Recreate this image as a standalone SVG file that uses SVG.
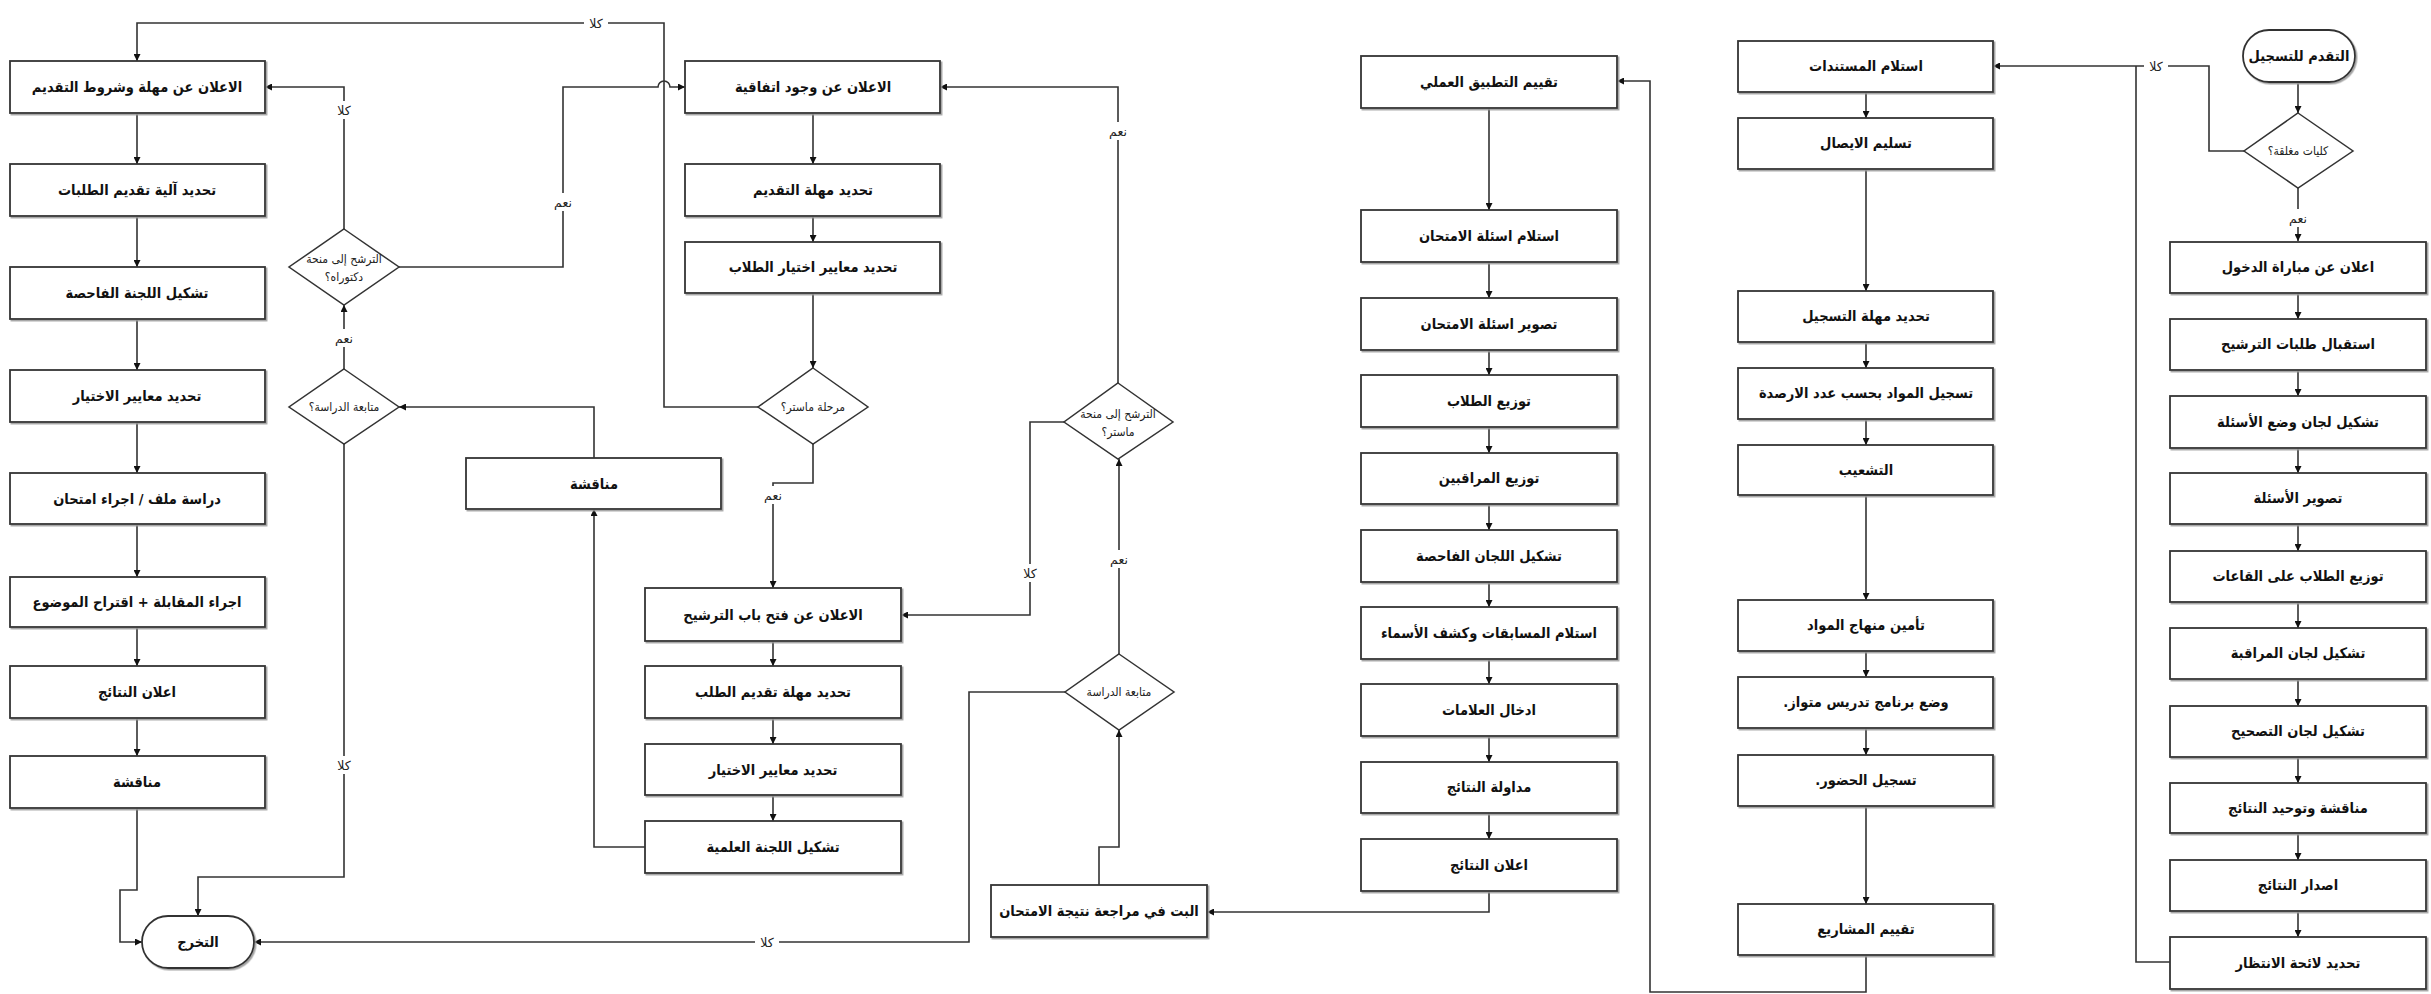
<svg xmlns="http://www.w3.org/2000/svg" width="2431" height="994" viewBox="0 0 2431 994">
<style>
.b{fill:#fff;stroke:#333;stroke-width:1.8;filter:url(#sh)}
.d{fill:#fff;stroke:#333;stroke-width:1.5}
.t{font-family:"DejaVu Sans","Noto Sans",sans-serif;font-weight:bold;font-size:14.5px;font-stretch:condensed;fill:#111;text-anchor:middle}
.dt{font-family:"DejaVu Sans","Noto Sans",sans-serif;font-size:12px;font-stretch:condensed;fill:#222;text-anchor:middle}
.c{fill:none;stroke:#333;stroke-width:1.6}
.ca{fill:none;stroke:#333;stroke-width:1.6;marker-end:url(#ah)}
.lb{fill:#fff}
.l{font-family:"DejaVu Sans","Noto Sans",sans-serif;font-size:12.5px;fill:#222;text-anchor:middle}
</style>
<defs>
<marker id="ah" viewBox="0 0 10 10" refX="10" refY="5" markerWidth="7" markerHeight="7" markerUnits="userSpaceOnUse" orient="auto">
<path d="M0,0 L10,5 L0,10 z" fill="#111"/>
</marker>
<filter id="sh" x="-5%" y="-10%" width="112%" height="130%">
<feDropShadow dx="1.5" dy="1.5" stdDeviation="0.6" flood-color="#999" flood-opacity="0.9"/>
</filter>
</defs>
<rect width="2431" height="994" fill="#fff"/>

<g id="connectors">
<!-- column 1 -->
<path class="ca" d="M137,113V164"/>
<path class="ca" d="M137,216V267"/>
<path class="ca" d="M137,319V370"/>
<path class="ca" d="M137,422V473"/>
<path class="ca" d="M137,524V577"/>
<path class="ca" d="M137,627V666"/>
<path class="ca" d="M137,718V756"/>
<path class="ca" d="M137,808V890H120V942H142"/>
<path class="ca" d="M344,444V877H198V916"/>
<path class="ca" d="M344,369V305"/>
<path class="ca" d="M344,229V87H265"/>
<path class="ca" d="M399,267H563V87H658A6,6 0 0 1 670,87H685"/>
<path class="ca" d="M758,407H664V23H137V61"/>
<path class="ca" d="M594,458V407H399"/>
<path class="ca" d="M645,847H594V509"/>
<!-- column 2 -->
<path class="ca" d="M813,113V164"/>
<path class="ca" d="M813,216V242"/>
<path class="ca" d="M813,293V368"/>
<path class="ca" d="M813,444V483H773V588"/>
<path class="ca" d="M773,641V666"/>
<path class="ca" d="M773,718V744"/>
<path class="ca" d="M773,795V821"/>
<path class="ca" d="M1118,383V87H940"/>
<path class="ca" d="M1064,422H1030V615H901"/>
<path class="ca" d="M1119,654V459"/>
<path class="ca" d="M1065,692H969V942H254"/>
<path class="ca" d="M1099,885V847H1119V730"/>
<path class="ca" d="M1489,891V912H1207"/>
<!-- column 3 -->
<path class="ca" d="M1489,108V210"/>
<path class="ca" d="M1489,262V298"/>
<path class="ca" d="M1489,350V375"/>
<path class="ca" d="M1489,427V453"/>
<path class="ca" d="M1489,504V530"/>
<path class="ca" d="M1489,582V607"/>
<path class="ca" d="M1489,659V684"/>
<path class="ca" d="M1489,736V762"/>
<path class="ca" d="M1489,813V839"/>
<path class="ca" d="M1866,955V992H1650V81H1617"/>
<!-- column 4 -->
<path class="ca" d="M1866,92V118"/>
<path class="ca" d="M1866,169V291"/>
<path class="ca" d="M1866,342V368"/>
<path class="ca" d="M1866,419V445"/>
<path class="ca" d="M1866,495V600"/>
<path class="ca" d="M1866,651V677"/>
<path class="ca" d="M1866,728V755"/>
<path class="ca" d="M1866,806V904"/>
<!-- column 5 -->
<path class="ca" d="M2298,82V113"/>
<path class="ca" d="M2244,151H2209V66H1993"/>
<path class="c" d="M2170,962H2136V66"/>
<path class="ca" d="M2298,188V241"/>
<path class="ca" d="M2298,293V319"/>
<path class="ca" d="M2298,370V396"/>
<path class="ca" d="M2298,448V473"/>
<path class="ca" d="M2298,524V551"/>
<path class="ca" d="M2298,602V628"/>
<path class="ca" d="M2298,679V706"/>
<path class="ca" d="M2298,757V783"/>
<path class="ca" d="M2298,833V860"/>
<path class="ca" d="M2298,911V937"/>
<!-- labels -->
<rect class="lb" x="332" y="756" width="24" height="18"/><text class="l" x="344" y="770">كلا</text>
<rect class="lb" x="332" y="329" width="24" height="18"/><text class="l" x="344" y="343">نعم</text>
<rect class="lb" x="332" y="101" width="24" height="18"/><text class="l" x="344" y="115">كلا</text>
<rect class="lb" x="551" y="193" width="24" height="18"/><text class="l" x="563" y="207">نعم</text>
<rect class="lb" x="584" y="14" width="24" height="18"/><text class="l" x="596" y="28">كلا</text>
<rect class="lb" x="761" y="486" width="24" height="18"/><text class="l" x="773" y="500">نعم</text>
<rect class="lb" x="1106" y="122" width="24" height="18"/><text class="l" x="1118" y="136">نعم</text>
<rect class="lb" x="1018" y="564" width="24" height="18"/><text class="l" x="1030" y="578">كلا</text>
<rect class="lb" x="1107" y="550" width="24" height="18"/><text class="l" x="1119" y="564">نعم</text>
<rect class="lb" x="755" y="933" width="24" height="18"/><text class="l" x="767" y="947">كلا</text>
<rect class="lb" x="2144" y="57" width="24" height="18"/><text class="l" x="2156" y="71">كلا</text>
<rect class="lb" x="2286" y="209" width="24" height="18"/><text class="l" x="2298" y="223">نعم</text>
</g>

<!-- column 1 -->
<g id="c1n1"><rect class="b" x="10" y="61" width="255" height="52"/><text class="t" x="137" y="92" direction="rtl">الاعلان عن مهلة وشروط التقديم</text></g>
<g id="c1n2"><rect class="b" x="10" y="164" width="255" height="52"/><text class="t" x="137" y="195" direction="rtl">تحديد آلية تقديم الطلبات</text></g>
<g id="c1n3"><rect class="b" x="10" y="267" width="255" height="52"/><text class="t" x="137" y="298" direction="rtl">تشكيل اللجنة الفاحصة</text></g>
<g id="c1n4"><rect class="b" x="10" y="370" width="255" height="52"/><text class="t" x="137" y="401" direction="rtl">تحديد معايير الاختيار</text></g>
<g id="c1n5"><rect class="b" x="10" y="473" width="255" height="51"/><text class="t" x="137" y="504" direction="rtl">دراسة ملف / اجراء امتحان</text></g>
<g id="c1n6"><rect class="b" x="10" y="577" width="255" height="50"/><text class="t" x="137" y="607" direction="rtl">اجراء المقابلة + اقتراح الموضوع</text></g>
<g id="c1n7"><rect class="b" x="10" y="666" width="255" height="52"/><text class="t" x="137" y="697" direction="rtl">اعلان النتائج</text></g>
<g id="c1n8"><rect class="b" x="10" y="756" width="255" height="52"/><text class="t" x="137" y="787" direction="rtl">مناقشة</text></g>
<g id="end"><rect class="b" x="142" y="916" width="112" height="52" rx="26"/><text class="t" x="198" y="947" direction="rtl">التخرج</text></g>
<g id="dDoct"><path class="d" d="M344,229L399,267L344,305L289,267Z"/><text class="dt" x="344" y="263" direction="rtl">الترشح إلى منحة</text><text class="dt" x="344" y="281" direction="rtl">دكتوراه؟</text></g>
<g id="dFollow1"><path class="d" d="M344,369L399,407L344,444L289,407Z"/><text class="dt" x="344" y="411" direction="rtl">متابعة الدراسة؟</text></g>
<g id="discuss"><rect class="b" x="466" y="458" width="255" height="51"/><text class="t" x="594" y="489" direction="rtl">مناقشة</text></g>

<!-- column 2 -->
<g id="c2n1"><rect class="b" x="685" y="61" width="255" height="52"/><text class="t" x="813" y="92" direction="rtl">الاعلان عن وجود اتفاقية</text></g>
<g id="c2n2"><rect class="b" x="685" y="164" width="255" height="52"/><text class="t" x="813" y="195" direction="rtl">تحديد مهلة التقديم</text></g>
<g id="c2n3"><rect class="b" x="685" y="242" width="255" height="51"/><text class="t" x="813" y="272" direction="rtl">تحديد معايير اختيار الطلاب</text></g>
<g id="dMaster"><path class="d" d="M813,368L868,407L813,444L758,407Z"/><text class="dt" x="813" y="411" direction="rtl">مرحلة ماستر؟</text></g>
<g id="c2n4"><rect class="b" x="645" y="588" width="256" height="53"/><text class="t" x="773" y="620" direction="rtl">الاعلان عن فتح باب الترشيح</text></g>
<g id="c2n5"><rect class="b" x="645" y="666" width="256" height="52"/><text class="t" x="773" y="697" direction="rtl">تحديد مهلة تقديم الطلب</text></g>
<g id="c2n6"><rect class="b" x="645" y="744" width="256" height="51"/><text class="t" x="773" y="775" direction="rtl">تحديد معايير الاختيار</text></g>
<g id="c2n7"><rect class="b" x="645" y="821" width="256" height="52"/><text class="t" x="773" y="852" direction="rtl">تشكيل اللجنة العلمية</text></g>
<g id="dMGrant"><path class="d" d="M1118,383L1173,422L1118,459L1064,422Z"/><text class="dt" x="1118" y="418" direction="rtl">الترشح إلى منحة</text><text class="dt" x="1118" y="436" direction="rtl">ماستر؟</text></g>
<g id="dFollow2"><path class="d" d="M1119,654L1174,692L1119,730L1065,692Z"/><text class="dt" x="1119" y="696" direction="rtl">متابعة الدراسة</text></g>
<g id="review"><rect class="b" x="991" y="885" width="216" height="52"/><text class="t" x="1099" y="916" direction="rtl">البت في مراجعة نتيجة الامتحان</text></g>

<!-- column 3 -->
<g id="c3n1"><rect class="b" x="1361" y="56" width="256" height="52"/><text class="t" x="1489" y="87" direction="rtl">تقييم التطبيق العملي</text></g>
<g id="c3n2"><rect class="b" x="1361" y="210" width="256" height="52"/><text class="t" x="1489" y="241" direction="rtl">استلام اسئلة الامتحان</text></g>
<g id="c3n3"><rect class="b" x="1361" y="298" width="256" height="52"/><text class="t" x="1489" y="329" direction="rtl">تصوير اسئلة الامتحان</text></g>
<g id="c3n4"><rect class="b" x="1361" y="375" width="256" height="52"/><text class="t" x="1489" y="406" direction="rtl">توزيع الطلاب</text></g>
<g id="c3n5"><rect class="b" x="1361" y="453" width="256" height="51"/><text class="t" x="1489" y="483" direction="rtl">توزيع المراقبين</text></g>
<g id="c3n6"><rect class="b" x="1361" y="530" width="256" height="52"/><text class="t" x="1489" y="561" direction="rtl">تشكيل اللجان الفاحصة</text></g>
<g id="c3n7"><rect class="b" x="1361" y="607" width="256" height="52"/><text class="t" x="1489" y="638" direction="rtl">استلام المسابقات وكشف الأسماء</text></g>
<g id="c3n8"><rect class="b" x="1361" y="684" width="256" height="52"/><text class="t" x="1489" y="715" direction="rtl">ادخال العلامات</text></g>
<g id="c3n9"><rect class="b" x="1361" y="762" width="256" height="51"/><text class="t" x="1489" y="792" direction="rtl">مداولة النتائج</text></g>
<g id="c3n10"><rect class="b" x="1361" y="839" width="256" height="52"/><text class="t" x="1489" y="870" direction="rtl">اعلان النتائج</text></g>

<!-- column 4 -->
<g id="c4n1"><rect class="b" x="1738" y="41" width="255" height="51"/><text class="t" x="1866" y="71" direction="rtl">استلام المستندات</text></g>
<g id="c4n2"><rect class="b" x="1738" y="118" width="255" height="51"/><text class="t" x="1866" y="148" direction="rtl">تسليم الايصال</text></g>
<g id="c4n3"><rect class="b" x="1738" y="291" width="255" height="51"/><text class="t" x="1866" y="321" direction="rtl">تحديد مهلة التسجيل</text></g>
<g id="c4n4"><rect class="b" x="1738" y="368" width="255" height="51"/><text class="t" x="1866" y="398" direction="rtl">تسجيل المواد بحسب عدد الارصدة</text></g>
<g id="c4n5"><rect class="b" x="1738" y="445" width="255" height="50"/><text class="t" x="1866" y="475" direction="rtl">التشعيب</text></g>
<g id="c4n6"><rect class="b" x="1738" y="600" width="255" height="51"/><text class="t" x="1866" y="630" direction="rtl">تأمين منهاج المواد</text></g>
<g id="c4n7"><rect class="b" x="1738" y="677" width="255" height="51"/><text class="t" x="1866" y="707" direction="rtl">وضع برنامج تدريس متواز.</text></g>
<g id="c4n8"><rect class="b" x="1738" y="755" width="255" height="51"/><text class="t" x="1866" y="785" direction="rtl">تسجيل الحضور.</text></g>
<g id="c4n9"><rect class="b" x="1738" y="904" width="255" height="51"/><text class="t" x="1866" y="934" direction="rtl">تقييم المشاريع</text></g>

<!-- column 5 -->
<g id="start"><rect class="b" x="2243" y="30" width="112" height="52" rx="26"/><text class="t" x="2299" y="61" direction="rtl">التقدم للتسجيل</text></g>
<g id="dClosed"><path class="d" d="M2298,113L2353,151L2298,188L2244,151Z"/><text class="dt" x="2298" y="155" direction="rtl">كليات مغلقة؟</text></g>
<g id="c5n1"><rect class="b" x="2170" y="242" width="256" height="51"/><text class="t" x="2298" y="272" direction="rtl">اعلان عن مباراة الدخول</text></g>
<g id="c5n2"><rect class="b" x="2170" y="319" width="256" height="51"/><text class="t" x="2298" y="349" direction="rtl">استقبال طلبات الترشيح</text></g>
<g id="c5n3"><rect class="b" x="2170" y="396" width="256" height="52"/><text class="t" x="2298" y="427" direction="rtl">تشكيل لجان وضع الأسئلة</text></g>
<g id="c5n4"><rect class="b" x="2170" y="473" width="256" height="51"/><text class="t" x="2298" y="503" direction="rtl">تصوير الأسئلة</text></g>
<g id="c5n5"><rect class="b" x="2170" y="551" width="256" height="51"/><text class="t" x="2298" y="581" direction="rtl">توزيع الطلاب على القاعات</text></g>
<g id="c5n6"><rect class="b" x="2170" y="628" width="256" height="51"/><text class="t" x="2298" y="658" direction="rtl">تشكيل لجان المراقبة</text></g>
<g id="c5n7"><rect class="b" x="2170" y="706" width="256" height="51"/><text class="t" x="2298" y="736" direction="rtl">تشكيل لجان التصحيح</text></g>
<g id="c5n8"><rect class="b" x="2170" y="783" width="256" height="50"/><text class="t" x="2298" y="813" direction="rtl">مناقشة وتوحيد النتائج</text></g>
<g id="c5n9"><rect class="b" x="2170" y="860" width="256" height="51"/><text class="t" x="2298" y="890" direction="rtl">اصدار النتائج</text></g>
<g id="c5n10"><rect class="b" x="2170" y="937" width="256" height="52"/><text class="t" x="2298" y="968" direction="rtl">تحديد لائحة الانتظار</text></g>
</svg>
